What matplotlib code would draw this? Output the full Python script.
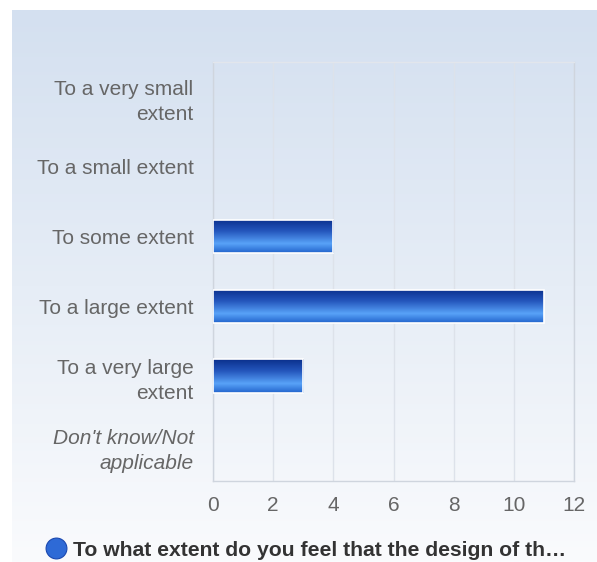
import numpy as np
import matplotlib
matplotlib.use("Agg")
import matplotlib.pyplot as plt
from matplotlib.colors import LinearSegmentedColormap
from matplotlib.lines import Line2D

categories = ["To a very small\nextent", "To a small extent", "To some extent",
              "To a large extent", "To a very large\nextent", "Don't know/Not\napplicable"]
values = [0, 0, 4, 11, 3, 0]
xticks = [0, 2, 4, 6, 8, 10, 12]
series_name = "To what extent do you feel that the design of th\u2026"

plt.rcParams['font.family'] = ['Liberation Sans', 'DejaVu Sans']

W, H = 597, 562
fig = plt.figure(figsize=(W / 100, H / 100), dpi=100)
fig.patch.set_facecolor("white")

# background panel with vertical gradient
bg = fig.add_axes([12 / W, 0, 1 - 12 / W, 1 - 10 / H])
bg.set_axis_off()
grad = np.linspace(0, 1, 256).reshape(-1, 1)
bg_cmap = LinearSegmentedColormap.from_list("bg", ["#d4e0f0", "#e6edf6", "#fafbfd"])
bg.imshow(grad, aspect="auto", cmap=bg_cmap, extent=[0, 1, 0, 1], origin="upper")
bg.set_zorder(0)

ax = fig.add_axes([213 / W, 1 - 481 / H, (574 - 213) / W, (481 - 62) / H])
ax.set_zorder(1)
ax.patch.set_alpha(0)

y = np.arange(len(categories))
bars = ax.barh(y, values, height=0.48, color="#2a62c8", linewidth=0, zorder=3)

bar_cmap = LinearSegmentedColormap.from_list(
    "bar", [(0.0, "#0a2f8c"), (0.35, "#2456bc"), (0.72, "#58a2f8"), (1.0, "#2264cc")])
for b in bars:
    if b.get_width() <= 0:
        continue
    x0, y0 = b.get_x(), b.get_y()
    w, h = b.get_width(), b.get_height()
    im = ax.imshow(grad, aspect="auto", cmap=bar_cmap,
                   extent=[x0, x0 + w, y0, y0 + h], origin="lower", zorder=3.5)
    im.set_clip_path(b)
    ax.add_patch(plt.Rectangle((x0, y0), w, h, fill=False, edgecolor="white", linewidth=1.2, zorder=4))

ax.set_xlim(0, 12)
ax.set_ylim(len(categories) - 0.5, -0.5)
ax.set_aspect("auto")
ax.set_xticks(xticks)
ax.set_xticklabels([str(t) for t in xticks])
ax.set_yticks(y)
ax.set_yticklabels(categories)
for lbl in ax.get_yticklabels():
    lbl.set_multialignment("right")
    lbl.set_linespacing(1.4)
    if lbl.get_text().startswith("Don't"):
        lbl.set_style("italic")
ax.tick_params(axis="y", length=0, labelsize=15, labelcolor="#666666", pad=14)
ax.tick_params(axis="x", length=0, labelsize=15, labelcolor="#666666", pad=11)
ax.grid(axis="x", color="#dde2ea", linewidth=1.0, zorder=0)
ax.set_axisbelow(True)
for side, sp in ax.spines.items():
    sp.set_color("#cfd5de")
    sp.set_linewidth(1.0)
ax.spines["top"].set_color("#e2e6ec")

handle = Line2D([], [], marker="o", linestyle="none", markersize=15,
                markerfacecolor="#2e6ad6", markeredgecolor="#1a48b0", markeredgewidth=0.8)
fig.legend([handle], [series_name], loc="center", bbox_to_anchor=(306 / W, 1 - 550 / H),
           frameon=False, handletextpad=0.3, handlelength=1.0,
           prop={"weight": "bold", "size": 15.2}, labelcolor="#333333")

fig.savefig("out.png", dpi=100, facecolor=fig.get_facecolor())
